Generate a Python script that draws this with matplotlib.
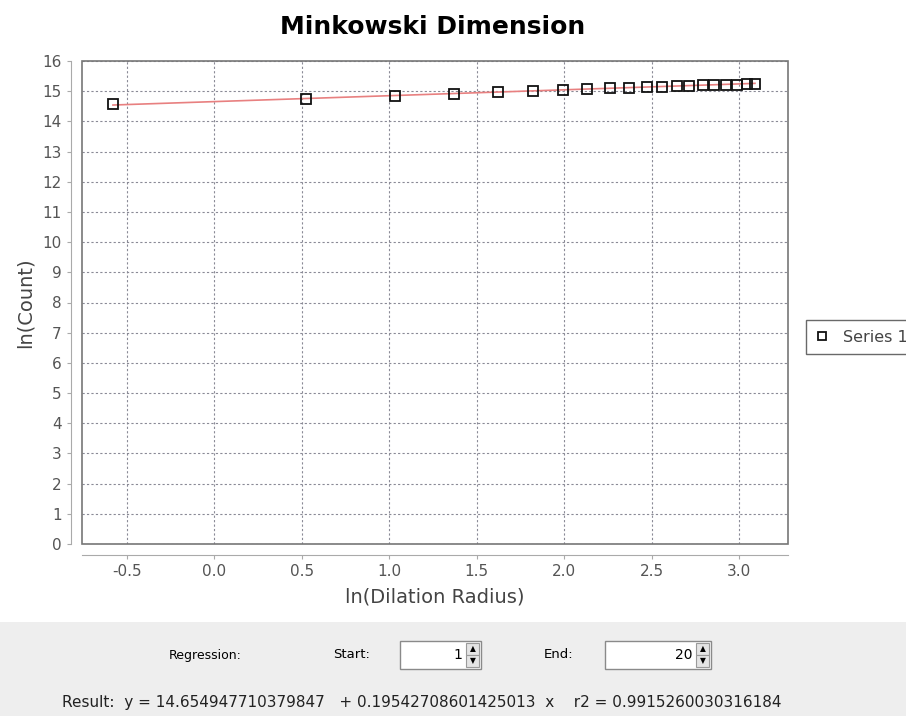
import matplotlib
matplotlib.use("Agg")
import matplotlib.pyplot as plt
from matplotlib.patches import Rectangle

# ln(radius) / ln(count) pairs
ln_radius = [-0.58, 0.523, 1.032, 1.370, 1.621, 1.821, 1.993, 2.130, 2.262, 2.370,
             2.473, 2.559, 2.645, 2.713, 2.793, 2.856, 2.925, 2.988, 3.045, 3.091]
ln_count = [14.56, 14.73, 14.83, 14.90, 14.96, 15.00, 15.04, 15.07, 15.09, 15.11,
            15.13, 15.15, 15.16, 15.18, 15.19, 15.20, 15.21, 15.22, 15.23, 15.24]

intercept = 14.654947710379847
slope = 0.19542708601425013
r2 = 0.9915260030316184
reg_start = 1
reg_end = 20

x_ticks = [-0.5, 0.0, 0.5, 1.0, 1.5, 2.0, 2.5, 3.0]
y_ticks = list(range(0, 17))

W, H = 906, 716
fig = plt.figure(figsize=(W / 100, H / 100), dpi=100)
fig.patch.set_facecolor("white")

def fx(px):
    return px / W

def fy(py):
    return 1 - py / H

ax = fig.add_axes([fx(82), fy(544), fx(788) - fx(82), fy(61) - fy(544)])
ax.set_xlim(-0.757, 3.28)
ax.set_ylim(0, 16)

# fitted line over the regression range
i0, i1 = reg_start - 1, reg_end - 1
xr = [ln_radius[i0], ln_radius[i1]]
ax.plot(xr, [intercept + slope * v for v in xr], color="#e88080", lw=1.2, zorder=2)
ax.plot(ln_radius, ln_count, ls="none", marker="s", ms=7, mfc="none",
        mec="#111111", mew=1.3, zorder=3, label="Series 1")

ax.set_xticks(x_ticks)
ax.set_xticklabels([f"{v:.1f}" for v in x_ticks])
ax.set_yticks(y_ticks)
ax.grid(True, color="#8a8a96", ls=(0, (2, 2)), lw=0.8)

for s in ("top", "right"):
    ax.spines[s].set_visible(False)
for s in ("left", "bottom"):
    ax.spines[s].set_position(("outward", 8))
    ax.spines[s].set_color("#aaaaaa")
# plot outline
ax.add_patch(Rectangle((0, 0), 1, 1, transform=ax.transAxes, fill=False,
                       ec="#777777", lw=1.2, zorder=5, clip_on=False))
ax.tick_params(colors="#aaaaaa", labelcolor="#555555", labelsize=11, length=3, width=0.8)

ax.set_xlabel("ln(Dilation Radius)", fontsize=14, color="#444444", labelpad=6)
ax.set_ylabel("ln(Count)", fontsize=14, color="#444444", labelpad=6)
fig.text(fx(433), fy(27), "Minkowski Dimension", fontsize=18, fontweight="bold",
         ha="center", va="center")

leg = ax.legend(loc="center left", bbox_to_anchor=(1.014, 0.428), frameon=True,
                fancybox=False, fontsize=11.5, handlelength=0.8, handletextpad=0.9,
                borderpad=0.6, markerscale=0.85)
leg.get_frame().set_edgecolor("#444444")
leg.get_frame().set_linewidth(1.0)
for t in leg.get_texts():
    t.set_color("#444444")

# control panel below the chart
panel = fig.add_axes([0, 0, 1, fy(622)])
panel.set_xlim(0, W)
panel.set_ylim(H, 622)
panel.axis("off")
panel.add_patch(Rectangle((0, 622), W, H - 622, color="#eeeeee", zorder=0))

def spinner(x0, x1, value):
    panel.add_patch(Rectangle((x0, 641), x1 - x0, 28, fc="white", ec="#8a8a8a", lw=1))
    bx = x1 - 15
    panel.add_patch(Rectangle((bx, 643), 13, 12, fc="#e4e4e4", ec="#9a9a9a", lw=0.8))
    panel.add_patch(Rectangle((bx, 655), 13, 12, fc="#e4e4e4", ec="#9a9a9a", lw=0.8))
    panel.text(bx + 6.5, 649, "▲", fontsize=5.5, ha="center", va="center")
    panel.text(bx + 6.5, 661, "▼", fontsize=5.5, ha="center", va="center")
    panel.text(bx - 4, 655, str(value), fontsize=10, ha="right", va="center")

panel.text(205, 655, "Regression:", fontsize=9, ha="center", va="center")
panel.text(352, 655, "Start:", fontsize=9.5, ha="center", va="center")
spinner(400, 481, reg_start)
panel.text(559, 655, "End:", fontsize=9.5, ha="center", va="center")
spinner(605, 711, reg_end)
panel.text(422, 702,
           f"Result:  y = {intercept!r}   + {slope!r}  x    r2 = {r2!r}",
           fontsize=11, ha="center", va="center", color="#222222")

fig.savefig("out.png", dpi=100)
